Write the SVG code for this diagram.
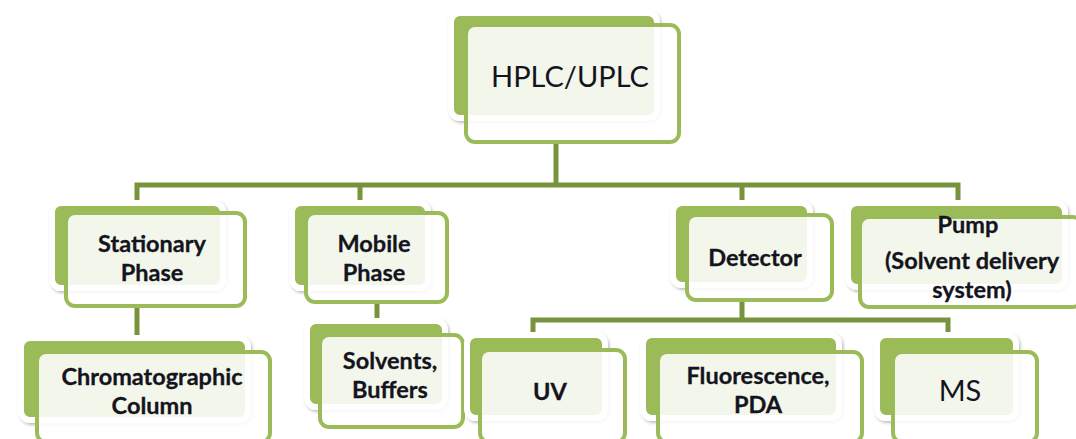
<svg xmlns="http://www.w3.org/2000/svg" width="1076" height="439" viewBox="0 0 1076 439">
  <defs>
    <filter id="shadow" x="-10%" y="-10%" width="125%" height="130%">
      <feDropShadow dx="1.5" dy="2" stdDeviation="1.5" flood-color="#000" flood-opacity="0.25"/>
    </filter>
    <style>
      .back { fill: #9BBB59; stroke: #FFFFFF; stroke-width: 6; filter: url(#shadow); }
      .front { fill: #FFFFFF; fill-opacity: 0.88; stroke: #9BBB59; stroke-width: 4; }
      .wire { fill: none; stroke: #77933C; stroke-width: 5; stroke-linejoin: miter; }
      .lbl { font-family: Lato, "Liberation Sans", sans-serif; fill: #141420; text-anchor: middle; }
      .b { font-weight: bold; font-size: 23.5px; stroke: #141420; stroke-width: 0.3; }
      .n { font-size: 29px; }
    </style>
  </defs>
  <rect width="1076" height="439" fill="#FFFFFF"/>

  <!-- connectors -->
  <g id="connectors">
    <path class="wire" d="M556 142 V185"/>
    <path class="wire" d="M137 205 V185 H958 V205"/>
    <path class="wire" d="M360 185 V205"/>
    <path class="wire" d="M742 185 V205"/>
    <path class="wire" d="M137 306 V338"/>
    <path class="wire" d="M377 301 V322"/>
    <path class="wire" d="M742 300 V320"/>
    <path class="wire" d="M533 336 V320 H948 V336"/>
  </g>

  <g id="node-hplc">
    <rect class="back" x="451" y="13" width="206" height="105" rx="9"/>
    <rect class="front" x="466" y="25" width="213" height="117" rx="9"/>
    <text class="lbl n" x="570" y="87">HPLC/UPLC</text>
  </g>

  <g id="node-stationary">
    <rect class="back" x="52" y="203" width="171" height="85" rx="9"/>
    <rect class="front" x="66" y="213" width="179" height="93" rx="9"/>
    <text class="lbl b" x="152" y="252">Stationary</text>
    <text class="lbl b" x="152" y="281">Phase</text>
  </g>

  <g id="node-mobile">
    <rect class="back" x="292" y="203" width="136" height="85" rx="9"/>
    <rect class="front" x="306" y="213" width="141" height="89" rx="9"/>
    <text class="lbl b" x="374" y="252">Mobile</text>
    <text class="lbl b" x="374" y="281">Phase</text>
  </g>

  <g id="node-detector">
    <rect class="back" x="673" y="203" width="137" height="82" rx="9"/>
    <rect class="front" x="687" y="215" width="145" height="85" rx="9"/>
    <text class="lbl b" x="755" y="266">Detector</text>
  </g>

  <g id="node-pump">
    <rect class="back" x="848" y="203" width="217" height="84" rx="9"/>
    <rect class="front" x="860" y="217" width="222" height="90" rx="9"/>
    <text class="lbl b" x="968" y="233">Pump</text>
    <text class="lbl b" x="972" y="269">(Solvent delivery</text>
    <text class="lbl b" x="972" y="298">system)</text>
  </g>

  <g id="node-column">
    <rect class="back" x="21" y="338" width="227" height="82" rx="9"/>
    <rect class="front" x="37" y="352" width="233" height="90" rx="9"/>
    <text class="lbl b" x="152" y="385">Chromatographic</text>
    <text class="lbl b" x="152" y="414">Column</text>
  </g>

  <g id="node-solvents">
    <rect class="back" x="307" y="321" width="138" height="86" rx="9"/>
    <rect class="front" x="320" y="335" width="143" height="92" rx="9"/>
    <text class="lbl b" x="390" y="369">Solvents,</text>
    <text class="lbl b" x="390" y="398">Buffers</text>
  </g>

  <g id="node-uv">
    <rect class="back" x="467" y="335" width="138" height="83" rx="9"/>
    <rect class="front" x="480" y="350" width="145" height="92" rx="9"/>
    <text class="lbl b" x="550" y="400">UV</text>
  </g>

  <g id="node-fluorescence">
    <rect class="back" x="643" y="335" width="196" height="83" rx="9"/>
    <rect class="front" x="658" y="352" width="204" height="90" rx="9"/>
    <text class="lbl b" x="758" y="384">Fluorescence,</text>
    <text class="lbl b" x="758" y="413">PDA</text>
  </g>

  <g id="node-ms">
    <rect class="back" x="877" y="335" width="139" height="83" rx="9"/>
    <rect class="front" x="893" y="352" width="144" height="90" rx="9"/>
    <text class="lbl n" x="960" y="401" font-size="28">MS</text>
  </g>
</svg>
